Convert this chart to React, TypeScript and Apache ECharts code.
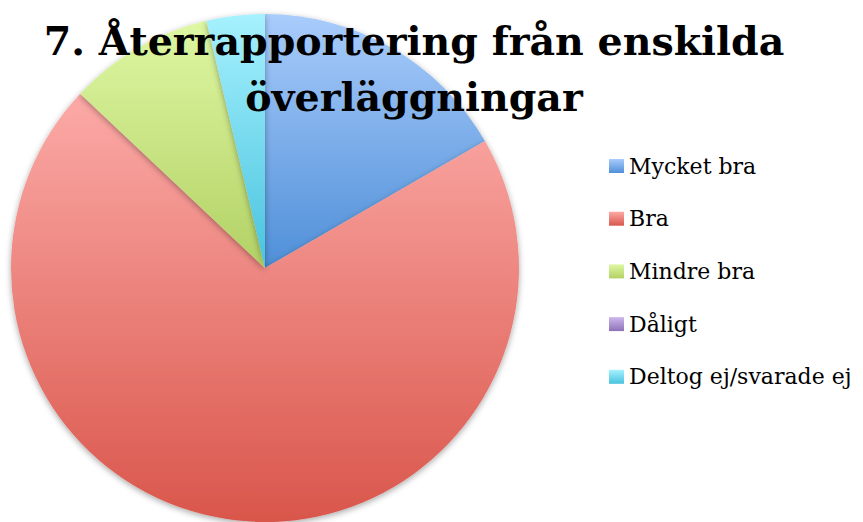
import React, { useEffect, useRef } from "react";
import * as echarts from "echarts";

const categories = ["Mycket bra", "Bra", "Mindre bra", "Dåligt", "Deltog ej/svarade ej"];
const values = [9, 38, 5, 0, 2];
const topColors = ["#a9ccfb", "#fcaaa7", "#def7a3", "#cdb8ec", "#a6f1fe"];
const bottomColors = ["#4f8fd8", "#d9564b", "#b2d164", "#8e71b8", "#48c3de"];
const titleText = "7. Återrapportering från enskilda\növerläggningar";

export default function App() {
  const ref = useRef<HTMLDivElement>(null);
  useEffect(() => {
    if (!ref.current) return;
    const chart = echarts.init(ref.current, null, { renderer: "svg" });
    const data = categories.map((name, i) => ({
      name,
      value: values[i],
      itemStyle: {
        color: new echarts.graphic.LinearGradient(0, 0, 0, 1, [
          { offset: 0, color: topColors[i] },
          { offset: 1, color: bottomColors[i] },
        ]),
      },
    }));
    chart.setOption({
      animation: false,
      backgroundColor: "#ffffff",
      legend: {
        orient: "vertical",
        left: 604,
        top: 150,
        itemWidth: 15,
        itemHeight: 14,
        itemGap: 30.7,
        icon: "rect",
        data: categories,
        textStyle: {
          fontFamily: "DejaVu Serif",
          fontSize: 22,
          color: "#000",
        },
      },
      series: [
        {
          type: "pie",
          center: [265, 268],
          radius: 254,
          startAngle: 90,
          clockwise: true,
          label: { show: false },
          labelLine: { show: false },
          emphasis: { disabled: true },
          itemStyle: {
            borderWidth: 0,
            shadowBlur: 6,
            shadowColor: "rgba(0,0,0,0.35)",
            shadowOffsetY: 2,
          },
          data,
        },
      ],
      graphic: [
        {
          type: "text",
          z: 100,
          x: 414,
          y: 13,
          style: {
            text: titleText,
            font: "bold 39.5px 'DejaVu Serif'",
            fill: "#000",
            textAlign: "center",
            lineHeight: 56,
          },
        },
      ],
    });
    return () => chart.dispose();
  }, []);
  return (
    <div
      ref={ref}
      style={{ position: "absolute", left: 0, top: 0, width: 863, height: 522 }}
    />
  );
}
